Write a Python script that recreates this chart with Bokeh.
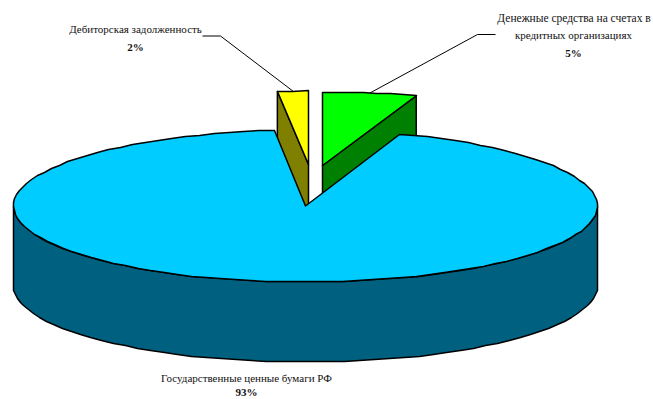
import numpy as np
from bokeh.plotting import figure
from bokeh.models import Range1d
from bokeh.core.properties import value
from bokeh.embed import file_html
from bokeh.resources import INLINE

# Data, clockwise from 12 o'clock
categories = ["Денежные средства на счетах в\nкредитных организациях",
              "Государственные ценные бумаги РФ",
              "Дебиторская задолженность"]
shares = [5.2, 93.1, 1.7]
pct_labels = ["5%", "93%", "2%"]
top_colors = ["#00FF00", "#00CCFF", "#FFFF00"]
side_colors = ["#008000", "#006080", "#808000"]

W, H = 653, 399
p = figure(width=W, height=H, output_backend="svg", toolbar_location=None,
           x_range=Range1d(0, W), y_range=Range1d(H, 0),
           min_border=0, outline_line_color=None)
p.axis.visible = False
p.grid.visible = False
p.background_fill_color = "white"
p.border_fill_color = "white"

CX, CY, RX, RY = 305.0, 205.5, 292.0, 76.0
DEPTH_BIG, DEPTH_SMALL = 80.0, 50.0
EXPL_RY = 73.5
LW = 1.5

a = np.cumsum([0] + shares) / sum(shares) * 2 * np.pi
green_a = (a[0], a[1])
big_a = (a[1], a[2])
yellow_a = (a[2], a[3])


def arc(cx, cy, t0, t1, ry=RY, step=np.radians(3.0)):
    n = max(2, int(abs(t1 - t0) / step) + 1)
    t = np.linspace(t0, t1, n)
    return np.round(cx + RX * np.sin(t)), np.round(cy - ry * np.cos(t))


def poly(xs, ys, color):
    p.patch(list(xs), list(ys), fill_color=color, line_color="black",
            line_width=LW, line_join="round")


# Exploded slices: cut-face first, then top. edge = angle of the visible cut face
def small(apex_x, apex_y, t0, t1, edge, top, side):
    ax, ay = arc(apex_x, apex_y, t0, t1, EXPL_RY, np.radians(2.5))
    ex = apex_x + RX * np.sin(edge)
    ey = apex_y - EXPL_RY * np.cos(edge)
    poly([apex_x, ex, ex, apex_x],
         [apex_y, ey, ey + DEPTH_SMALL, apex_y + DEPTH_SMALL], side)
    poly([apex_x, *ax], [apex_y, *ay], top)


small(322.0, 165.0, *green_a, green_a[1], top_colors[0], side_colors[0])
small(308.0, 164.0, *yellow_a, yellow_a[0], top_colors[2], side_colors[2])

# Large slice: front wall, then top
fx, fy = arc(CX, CY, np.pi * 0.5, np.pi * 1.5)
poly(np.r_[fx, fx[::-1]], np.r_[fy, fy[::-1] + DEPTH_BIG], side_colors[1])
tx, ty = arc(CX, CY, *big_a)
poly(np.r_[CX, tx], np.r_[CY, ty], top_colors[1])

# Leader lines end at each slice's mid angle
gm = sum(green_a) / 2
ym = sum(yellow_a) / 2
p.line([495, 477, 322 + RX * np.sin(gm)], [34, 34, 165 - EXPL_RY * np.cos(gm)],
       line_color="black", line_width=1)
p.line([202, 220, 308 + RX * np.sin(ym)], [35.5, 35.5, 164 - EXPL_RY * np.cos(ym)],
       line_color="black", line_width=1)

# Labels
FONT = value("Liberation Serif")


def label(x, y, s, bold=False, size="11px"):
    p.text([x], [y], text=[s], text_font=FONT, text_font_size=size,
           text_align="center", text_baseline="middle", text_color="#111111",
           text_font_style="bold" if bold else "normal")


l0, l1 = categories[0].split("\n")
label(573.5, 17, l0, size="11.5px")
label(573, 34, l1)
label(573, 52, pct_labels[0], True)
label(135, 28, categories[2])
label(135, 46, pct_labels[2], True)
label(246, 377, categories[1])
label(246, 391, pct_labels[1], True)

open("out.html", "w").write(file_html(p, INLINE))
